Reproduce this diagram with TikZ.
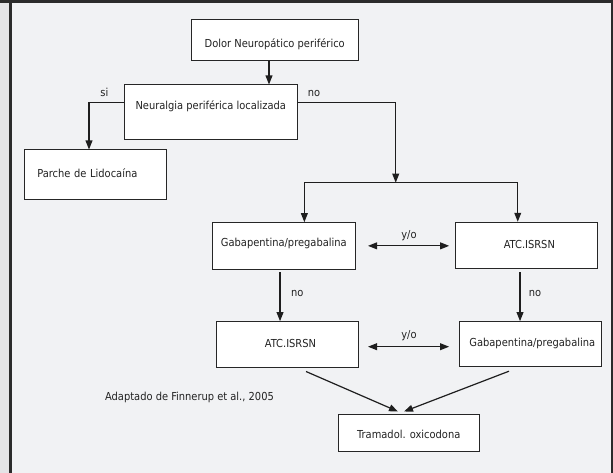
\documentclass[tikz,border=0pt]{standalone}
\usepackage{fontspec}
\setmainfont{DejaVu Sans Condensed}
\usetikzlibrary{arrows.meta}
\definecolor{bg}{HTML}{F1F2F4}
\definecolor{strip}{HTML}{E4E4E6}
\definecolor{framec}{HTML}{2B2B2B}
\definecolor{boxc}{HTML}{262626}
\definecolor{linec}{HTML}{1E1E1E}
\definecolor{txt}{HTML}{222222}
\tikzset{
  box/.style={draw=boxc, fill=white, line width=1pt, inner sep=0pt, text=txt,
    text height=8pt, text depth=2.5pt, align=center},
  arr/.style={draw=linec, line width=1.2pt, -{Triangle[length=9pt,width=6.8pt]}},
  darr/.style={draw=linec, line width=1.2pt, {Triangle[length=9pt,width=6.8pt]}-{Triangle[length=9pt,width=6.8pt]}},
  lbl/.style={text=txt, inner sep=0pt, text height=8pt, text depth=2.5pt}
}
\begin{document}
\begin{tikzpicture}[x=1pt,y=-1pt,font=\fontsize{11}{13}\selectfont]
\useasboundingbox (0,0) rectangle (613,473);
\fill[bg] (0,0) rectangle (613,473);
\fill[strip] (0,0) rectangle (9,473);
\fill[framec] (9,0) rectangle (12,473);
\fill[framec] (0,0) rectangle (613,3);
\fill[framec] (611,0) rectangle (613,473);

\node[box, minimum width=166.5pt, minimum height=41.7pt, text height=17pt] (b1) at (274.75,40.15) {Dolor Neuropático periférico};
\node[box, minimum width=173pt, minimum height=54.3pt, text depth=12.5pt] (b2) at (210.8,112.15) {Neuralgia periférica localizada};
\node[box, minimum width=142pt, minimum height=50pt, text width=116pt, align=left] (b3) at (95.3,175) {Parche de Lidocaína};
\node[box, minimum width=142.3pt, minimum height=46.3pt, text depth=7.5pt] (b4) at (283.85,245.85) {Gabapentina/pregabalina};
\node[box, minimum width=141.3pt, minimum height=46pt] (b5) at (526.35,245.3) {\hspace*{6pt}ATC.ISRSN};
\node[box, minimum width=141.6pt, minimum height=45.6pt] (b6) at (287.5,344.5) {\hspace*{6pt}ATC.ISRSN};
\node[box, minimum width=142pt, minimum height=45pt] (b7) at (530.3,344.2) {\hspace*{4pt}Gabapentina/pregabalina};
\node[box, minimum width=141pt, minimum height=37.7pt, text height=14pt] (b8) at (408.8,432.85) {Tramadol. oxicodona};

\coordinate (j) at (395.7,182.7);
\draw[arr] ([xshift=-5.75pt]b1.south) -- ([xshift=-5.75pt]b1.south |- b2.north);
\draw[arr] ([yshift=9.5pt]b2.west) -| ([xshift=-6.3pt]b3.north);
\draw[arr] ([yshift=9.5pt]b2.east) -| (j);
\draw[arr] (j) -| ([xshift=20.5pt]b4.north);
\draw[arr] (j) -| ([xshift=-8.6pt]b5.north);

\draw[darr, shorten <=12.5pt, shorten >=6pt] (b4.east) -- (b4.east -| b5.west);
\draw[darr, shorten <=9.2pt, shorten >=9.7pt] ([yshift=-2.2pt]b6.east) -- ([yshift=-2.2pt]b6.east -| b7.west);

\draw[arr, shorten <=2.7pt] ([xshift=-3.85pt]b4.south) -- ([xshift=-3.85pt]b4.south |- b6.north);
\draw[arr, shorten <=3.4pt] ([xshift=-6.35pt]b5.south) -- ([xshift=-6.35pt]b5.south |- b7.north);

\draw[arr] ([xshift=18.5pt,yshift=-3.7pt]b6.south) -- ([xshift=-10.8pt,yshift=2pt]b8.north);
\draw[arr] ([xshift=-21.3pt,yshift=-4pt]b7.south) -- ([xshift=-4.8pt,yshift=2pt]b8.north);

\node[lbl] (si) at (104.3,93.3) {si};
\node[lbl] (no1) at (314,93.3) {no};
\node[lbl] (yo1) at (409,235.7) {y/o};
\node[lbl] (yo2) at (409,335.7) {y/o};
\node[lbl] (no2) at (297.3,294) {no};
\node[lbl] (no3) at (535,294) {no};
\node[lbl] (src) at (189.5,397.3) {Adaptado de Finnerup et al., 2005};
\end{tikzpicture}
\end{document}
